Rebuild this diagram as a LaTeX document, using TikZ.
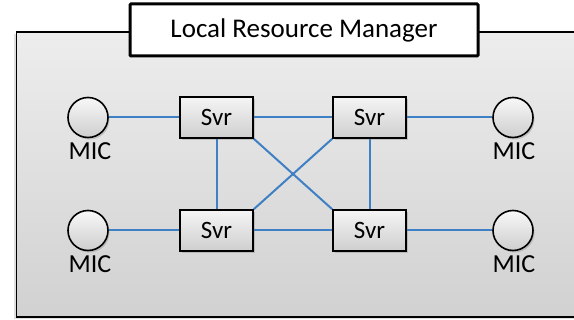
\documentclass[tikz,border=0pt]{standalone}
\usepackage{fontspec}
\setmainfont{Carlito}
\usetikzlibrary{shapes,shadows,positioning,calc}
\definecolor{linkblue}{HTML}{3F80C4}
\tikzstyle{link} = [draw, color=linkblue, line width=2pt]

\begin{document}
\begin{tikzpicture}[x=1pt,y=-1pt,
    panel/.style={
      draw,
      line width=1.6pt,
      minimum width=600pt,
      minimum height=285pt,
      top color=gray!14,
      bottom color=gray!36,
      drop shadow={shadow xshift=-2pt,shadow yshift=-2pt,opacity=.25}
    },
    title/.style={
      draw,
      line width=3pt,
      rounded corners=1pt,
      minimum width=348pt,
      minimum height=52pt,
      fill=white,
      font=\fontsize{27}{32}\selectfont
    },
    svr/.style={
      draw,
      line width=1.6pt,
      minimum width=73pt,
      minimum height=41pt,
      top color=gray!8,
      bottom color=gray!38,
      drop shadow={shadow xshift=2pt,shadow yshift=-2.5pt,opacity=.35},
      font=\fontsize{25}{30}\selectfont
    },
    mic/.style={
      circle,
      draw,
      line width=1.6pt,
      minimum size=40pt,
      inner sep=0pt,
      top color=gray!6,
      bottom color=gray!38,
      drop shadow={shadow xshift=1.5pt,shadow yshift=-2pt,opacity=.35}
    },
    miclabel/.style={
      anchor=base,
      inner sep=0pt,
      font=\fontsize{26}{31}\selectfont
    }
  ]
  \useasboundingbox (0,0) rectangle (574,320);

  \node[panel,anchor=north west] (lrm) at (15.5,31) {};
  \node[title] (name) at (304,30) {Local Resource Manager};

  \node[svr] (s1) at (216.5,117.5) {Svr};
  \node[svr] (s2) at (369.5,117.5) {Svr};
  \node[svr] (s3) at (216.5,230.5) {Svr};
  \node[svr] (s4) at (369.5,230.5) {Svr};

  \node[mic] (m1) at (88,117.5) {};
  \node[mic] (m2) at (513,117.5) {};
  \node[mic] (m3) at (88,230.5) {};
  \node[mic] (m4) at (513,230.5) {};

  \node[miclabel] (l1) at (90,160) {MIC};
  \node[miclabel] (l2) at (514,160) {MIC};
  \node[miclabel] (l3) at (90,273) {MIC};
  \node[miclabel] (l4) at (514,273) {MIC};

  \draw[link] (m1) -- (s1);
  \draw[link] (m3) -- (s3);
  \draw[link] (s2) -- (m2);
  \draw[link] (s4) -- (m4);

  \draw[link] (s1) -- (s2);
  \draw[link] (s3) -- (s4);
  \draw[link] (s1) -- (s3);
  \draw[link] (s2) -- (s4);
  \draw[link] (s1.south east) -- (s4.north west);
  \draw[link] (s2.south west) -- (s3.north east);

\end{tikzpicture}
\end{document}
